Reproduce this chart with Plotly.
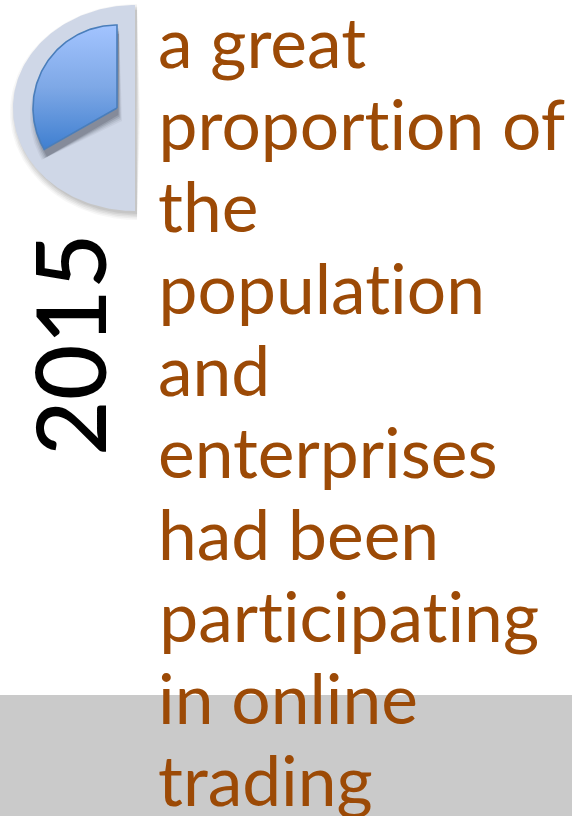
import numpy as np
import plotly.graph_objects as go

# Share of the whole circle held by each wedge (percent)
background_share = 50.0
highlight_share = 33.3
year_label = "2015"
caption_lines = [
    "a great", "proportion of", "the", "population", "and",
    "enterprises", "had been", "participating", "in online", "trading",
]

WIDTH, HEIGHT = 572, 816
TEXT_COLOR = "#9c4a06"
BAND_COLOR = "#cacaca"


def wedge(share, cx, cy, rx, ry, dx=0.0, dy=0.0, grow=0.0):
    """Outline of a wedge running counter-clockwise from twelve o'clock."""
    theta = np.radians(np.linspace(0, share * 3.6, 120))
    xs = cx - (rx + grow) * np.sin(theta) + dx
    ys = cy - (ry + grow) * np.cos(theta) + dy
    return np.r_[cx + dx + grow * 0.6, xs, cx + dx + grow * 0.6], np.r_[cy + dy + grow, ys, cy + dy + grow]


def soft_shadow(fig, share, cx, cy, rx, ry, dx, dy, color, layers):
    # Stacked translucent outlines stand in for a blurred drop shadow
    for grow, alpha in layers:
        x, y = wedge(share, cx, cy, rx, ry, dx, dy, grow)
        fig.add_trace(go.Scatter(
            x=x, y=y, mode="lines", fill="toself",
            fillcolor=f"rgba({color},{alpha})", line=dict(width=0),
            hoverinfo="skip", showlegend=False,
        ))


fig = go.Figure()

# Pale half disc and its shadow
soft_shadow(fig, background_share, 136, 108, 122, 103, 1, 4, "120,120,120",
            [(5, 0.06), (3.5, 0.08), (2, 0.1), (0.5, 0.12), (-1, 0.14)])
x, y = wedge(background_share, 135, 108, 122, 103)
fig.add_trace(go.Scatter(
    x=x, y=y, mode="lines", fill="toself", fillcolor="#cfd7e7",
    line=dict(width=0), hoverinfo="skip", showlegend=False,
))

# Highlighted wedge with a top-to-bottom gradient
soft_shadow(fig, highlight_share, 117, 108, 84, 83, 2, 8, "80,85,100",
            [(5, 0.07), (3.5, 0.1), (2, 0.14), (0.5, 0.2), (-1, 0.26)])
x, y = wedge(highlight_share, 117, 108, 84, 83)
fig.add_trace(go.Scatter(
    x=x, y=y, mode="lines", fill="toself",
    fillgradient=dict(
        type="vertical",
        colorscale=[[0, "#3f7fd0"], [0.5, "#7ea8e6"], [1, "#a3c4ff"]],
    ),
    line=dict(color="#4a7ebb", width=1.6),
    hoverinfo="skip", showlegend=False,
))

# Caption, one annotation per line on an even baseline grid
for i, line in enumerate(caption_lines):
    fig.add_annotation(
        x=155.5, y=41 + 82 * i, text=line, showarrow=False,
        xanchor="left", yanchor="middle",
        font=dict(family="Lato", size=69.5, color=TEXT_COLOR),
    )

fig.add_annotation(
    x=68, y=345, text=year_label, showarrow=False, textangle=-90,
    xanchor="center", yanchor="middle",
    font=dict(family="Lato", size=96, weight=500, color="#000000"),
)

fig.update_layout(
    width=WIDTH, height=HEIGHT, autosize=False,
    margin=dict(l=0, r=0, t=0, b=0),
    paper_bgcolor="#ffffff", plot_bgcolor="rgba(0,0,0,0)",
    xaxis=dict(range=[0, WIDTH], visible=False, fixedrange=True),
    yaxis=dict(range=[HEIGHT, 0], visible=False, fixedrange=True),
    shapes=[dict(type="rect", xref="x", yref="y", x0=0, x1=WIDTH, y0=695, y1=HEIGHT,
                 fillcolor=BAND_COLOR, line=dict(width=0), layer="below")],
)

# Keep letter pairs such as "ti" as separate glyphs
no_ligatures = (
    "var s=document.createElement('style');"
    "s.textContent='svg text{font-variant-ligatures:none;font-feature-settings:\"liga\" 0,\"clig\" 0;}';"
    "document.head.appendChild(s);"
)
fig.write_html("out.html", config=dict(displayModeBar=False), post_script=no_ligatures)
